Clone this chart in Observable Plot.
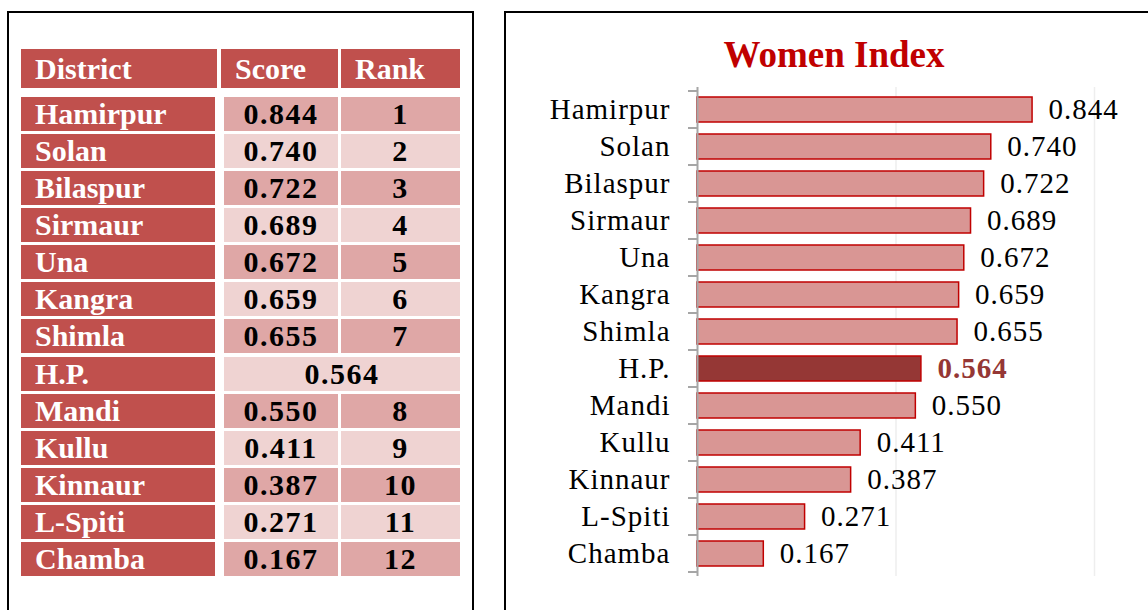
<!DOCTYPE html>
<html><head><meta charset="utf-8">
<script src="https://cdn.jsdelivr.net/npm/d3@7"></script>
<script src="https://cdn.jsdelivr.net/npm/@observablehq/plot@0.6"></script>
<style>
html,body{margin:0;padding:0;background:#fff;}
body{width:1148px;height:610px;overflow:hidden;position:relative;font-family:"Liberation Serif",serif;}
.panel{position:absolute;border:2px solid #000;box-sizing:border-box;}
.cell{position:absolute;display:flex;align-items:center;box-sizing:border-box;font-weight:bold;font-size:30px;line-height:30px;white-space:nowrap;}
.name{color:#fff;background:#C0504D;padding-left:14px;}
.num{color:#000;justify-content:center;letter-spacing:1.5px;}
#title{position:absolute;left:634px;width:400px;top:36px;text-align:center;font-weight:bold;font-size:37px;line-height:37px;color:#C00000;}
#chart{position:absolute;left:505px;top:80px;}
#chart text{letter-spacing:1px;}
</style>
</head>
<body>
<div class="panel" style="left:7px;top:11px;width:467px;height:700px;"></div>
<div class="panel" style="left:504px;top:11px;width:700px;height:700px;"></div>
<div id="table"></div>
<div id="title"></div>
<div id="chart"></div>
<script>
const districts = ["Hamirpur","Solan","Bilaspur","Sirmaur","Una","Kangra","Shimla","H.P.","Mandi","Kullu","Kinnaur","L-Spiti","Chamba"];
const scores = [0.844,0.740,0.722,0.689,0.672,0.659,0.655,0.564,0.550,0.411,0.387,0.271,0.167];
const ranks = [1,2,3,4,5,6,7,null,8,9,10,11,12];
const headers = ["District","Score","Rank"];
const stateName = "H.P.";
const chartTitle = "Women Index";
const gridValues = [0.5, 1];

const fmt = d3.format(".3f");
const colors = {header:"#C0504D", dark:"#DFA7A6", light:"#EFD3D2", bar:"#D99694", barState:"#953735", barStroke:"#C00000", axis:"#A6A6A6", grid:"#EEEEEE"};

// ---- table ----
const table = document.getElementById("table");
function addCell(cls, left, top, width, height, text, bg) {
  const d = document.createElement("div");
  d.className = "cell " + cls;
  d.style.left = left + "px"; d.style.top = top + "px";
  d.style.width = width + "px"; d.style.height = height + "px";
  if (bg) d.style.background = bg;
  d.textContent = text;
  table.appendChild(d);
}
const hdrLeft = [21, 221, 341], hdrWidth = [196, 117, 119];
headers.forEach((h, j) => addCell("name", hdrLeft[j], 49, hdrWidth[j], 39, h, colors.header));
const rowTop = 97, rowStep = 37.08, rowH = 34;
districts.forEach((d, i) => {
  const top = rowTop + i * rowStep;
  const bg = i % 2 === 0 ? colors.dark : colors.light;
  addCell("name", 21, top, 194, rowH, d, colors.header);
  if (ranks[i] == null) {
    addCell("num", 224, top, 236, rowH, fmt(scores[i]), bg);
  } else {
    addCell("num", 224, top, 114, rowH, fmt(scores[i]), bg);
    addCell("num", 341, top, 119, rowH, String(ranks[i]), bg);
  }
});

// ---- chart ----
document.getElementById("title").textContent = chartTitle;
const data = districts.map((d, i) => ({district: d, score: scores[i], isState: d === stateName}));
const chart = Plot.plot({
  width: 643, height: 520,
  marginLeft: 192, marginRight: 54, marginTop: 7, marginBottom: 24,
  style: {fontFamily: "Liberation Serif, serif", fontSize: "29px", color: "#000", background: "transparent", overflow: "visible"},
  x: {domain: [0, 1], axis: null},
  y: {domain: districts, paddingInner: 0.33, paddingOuter: 0.165, label: null},
  color: {type: "identity"},
  marks: [
    Plot.ruleX(gridValues, {stroke: colors.grid, strokeWidth: 1.5}),
    Plot.barX(data, {y: "district", x: "score", fill: d => d.isState ? colors.barState : colors.bar, stroke: colors.barStroke, strokeWidth: 1.5}),
    Plot.ruleX([0], {stroke: colors.axis, strokeWidth: 2}),
    Plot.axisY({tickSize: 0, tickPadding: 27, fontSize: 29, fill: "#000", label: null}),
    Plot.text(data.filter(d => !d.isState), {y: "district", x: "score", text: d => fmt(d.score), dx: 16, textAnchor: "start", fill: "#000", fontSize: 29}),
    Plot.text(data.filter(d => d.isState), {y: "district", x: "score", text: d => fmt(d.score), dx: 16, textAnchor: "start", fill: colors.barState, fontSize: 29, fontWeight: "bold"})
  ]
});
// category boundary tick marks (Excel style), from the plot's own scales
const ys = chart.scale("y"), xs = chart.scale("x");
const gap = (ys.step - ys.bandwidth) / 2;
const bounds = districts.map(c => ys.apply(c) - gap);
bounds.push(ys.apply(districts[districts.length - 1]) + ys.bandwidth + gap);
const x0 = xs.apply(0);
d3.select(chart).append("g").selectAll("line").data(bounds).join("line")
  .attr("x1", x0 - 9).attr("x2", x0).attr("y1", d => d).attr("y2", d => d)
  .attr("stroke", colors.axis).attr("stroke-width", 2);
document.getElementById("chart").appendChild(chart);
</script>
</body></html>
